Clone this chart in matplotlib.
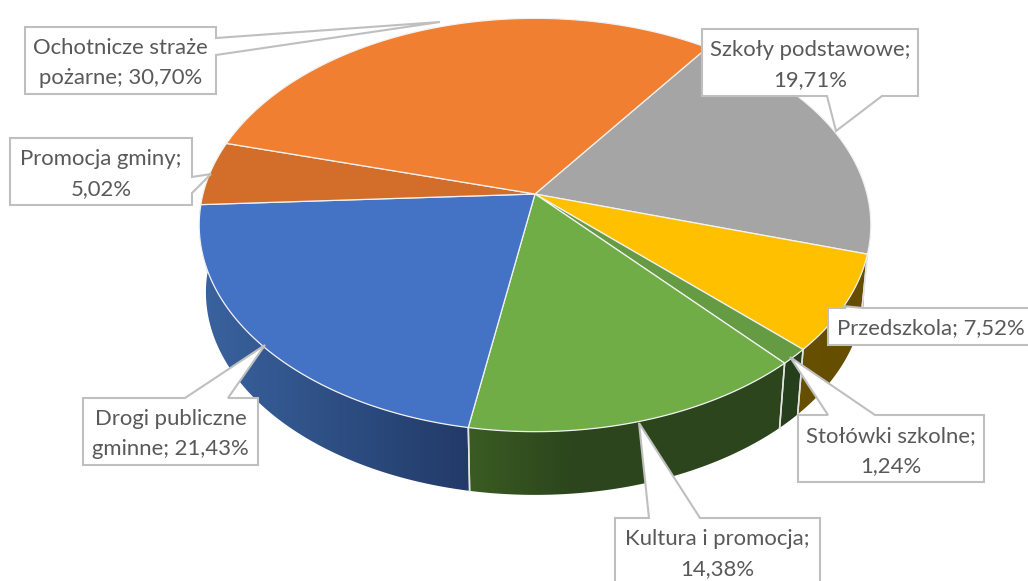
import matplotlib
matplotlib.use('Agg')
import matplotlib.pyplot as plt
from matplotlib.colors import LinearSegmentedColormap
from matplotlib.patches import Polygon
import numpy as np

categories = ['Szkoły podstawowe', 'Przedszkola', 'Stołówki szkolne', 'Kultura i promocja',
              'Drogi publiczne gminne', 'Promocja gminy', 'Ochotnicze straże pożarne']
values = [19.71, 7.52, 1.24, 14.38, 21.43, 5.02, 30.70]
label_lines = [['Szkoły podstawowe;', '19,71%'], ['Przedszkola; 7,52%'], ['Stołówki szkolne;', '1,24%'],
               ['Kultura i promocja;', '14,38%'], ['Drogi publiczne', 'gminne; 21,43%'],
               ['Promocja gminy;', '5,02%'], ['Ochotnicze straże', 'pożarne; 30,70%']]
top_colors = ['#A5A5A5', '#FFC000', '#659B42', '#70AD47', '#4472C4', '#D26D2A', '#F07F31']
# side wall colours, left end to right end of the gradient
side_colors = [('#535353', '#535353'), ('#665000', '#664D00'), ('#263F1C', '#263F1C'),
               ('#3A5C22', '#2C451D', '#2C451D', '#2C451D'), ('#3A639F', '#223A68'),
               ('#7A3E18', '#7A3E18'), ('#8A4A1C', '#8A4A1C')]

# callout outlines in pixels: box, then pointer base and tip
boxes = [(702, 29, 918, 96), (828, 308, 1040, 345), (798, 415, 984, 482), (615, 518, 820, 590),
         (83, 398, 258, 465), (10, 138, 192, 205), (25, 27, 216, 94)]
pointers = [[(882, 96), (836, 131), (827, 96)], [(863, 308), (843, 306), (846, 308)],
            [(875, 415), (790, 357), (828, 415)], [(700, 518), (639, 423), (649, 518)],
            [(228, 398), (265, 345), (185, 398)], [(192, 193), (211, 174), (192, 177)],
            [(216, 55), (440, 22), (216, 38)]]
sides = ['bottom', 'top', 'top', 'top', 'top', 'right', 'right']

cx, cy = 535, 194
start = 35.6
persp, a, b = 0.15, 202, 332
depth = 68


def project(theta, z=0.0):
    t = np.radians(theta)
    den = 1 + persp * np.cos(t)
    scale = 1 - 0.02 * z
    return cx + scale * b * np.sin(t) / den, cy + z * depth - scale * a * np.cos(t) / den


fig, ax = plt.subplots(figsize=(10.28, 5.81), dpi=100)
ax.set_position([0, 0, 1, 1])
ax.axis('off')

edges = start + np.cumsum([0] + values) * 3.6

# side walls
for i in range(len(values)):
    lo, hi = max(edges[i], 85), min(edges[i + 1], 275)
    if hi <= lo:
        continue
    th = np.linspace(lo, hi, 80)
    xt, yt = project(th)
    xb, yb = project(th, 1.0)
    pts = np.r_[np.c_[xt, yt], np.c_[xb, yb][::-1]]
    cmap = LinearSegmentedColormap.from_list('s', side_colors[i])
    grad = np.linspace(0, 1, 256).reshape(1, -1)
    im = ax.imshow(grad, cmap=cmap, aspect='auto', zorder=1,
                   extent=(pts[:, 0].min(), pts[:, 0].max(), pts[:, 1].max(), pts[:, 1].min()))
    poly = Polygon(pts, closed=True, fc='none', ec='none', transform=ax.transData)
    ax.add_patch(poly)
    im.set_clip_path(poly)
    for t in (lo, hi):
        if 90 < t < 270:
            x0, y0 = project(t)
            x1, y1 = project(t, 1.0)
            ax.plot([x0, x1], [y0, y1], color='#E4E4E4', lw=1.1, zorder=2)

# top faces
for i in range(len(values)):
    th = np.linspace(edges[i], edges[i + 1], 160)
    xt, yt = project(th)
    pts = np.r_[[(cx, cy)], np.c_[xt, yt]]
    ax.add_patch(Polygon(pts, closed=True, fc=top_colors[i], ec='#F2F2F2', lw=0.9, zorder=3,
                         joinstyle='round'))

# data label callouts
for i in range(len(values)):
    x0, y0, x1, y1 = boxes[i]
    p = pointers[i]
    if sides[i] == 'bottom':
        outline = [(x0, y0), (x1, y0), (x1, y1)] + p + [(x0, y1)]
    elif sides[i] == 'right':
        outline = [(x0, y0), (x1, y0)] + p[::-1] + [(x1, y1), (x0, y1)]
    else:
        outline = [(x0, y0)] + p[::-1] + [(x1, y0), (x1, y1), (x0, y1)]
    ax.add_patch(Polygon(outline, closed=True, fc='white', ec='#BFBFBF', lw=1.5, zorder=4, clip_on=True))
    ym = (y0 + y1) / 2 + 2.5
    tx = (x0 + x1) / 2
    if i == 3:
        ym = 554
    if i == 1:
        tx = 931
        ym = 328
    ax.text(tx, ym, '\n'.join(label_lines[i]), ha='center', va='center', fontsize=15.9,
            family='Lato', color='#595959', linespacing=1.62, zorder=5)

ax.set_xlim(0, 1028)
ax.set_ylim(581, 0)

fig.savefig('out.png', dpi=100, facecolor='white')
